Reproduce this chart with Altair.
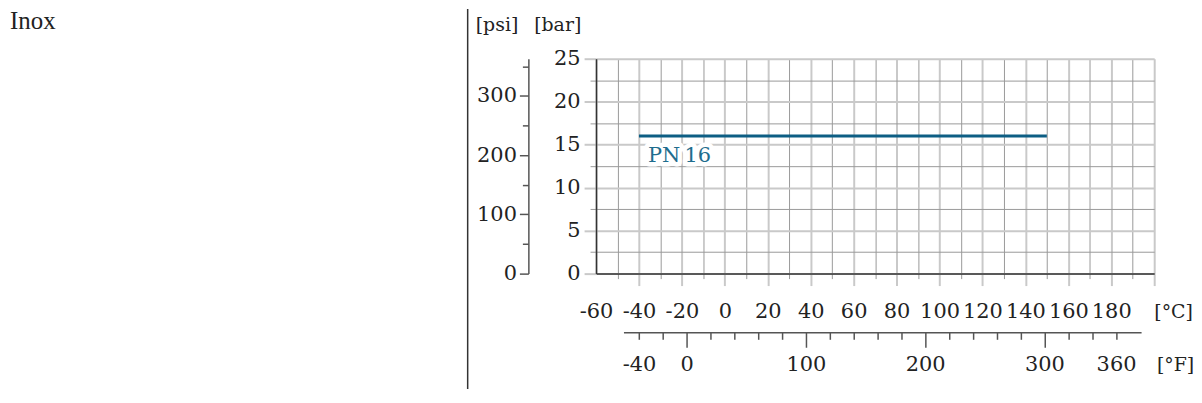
import altair as alt
import pandas as pd

# ---- data ----
chart_title = "Inox"
pn_temp_c = [-40, 150]
pn_bar = [16, 16]
pn_label = ["PN\u202f16"]

c_ticks = list(range(-60, 201, 10))
bar_ticks = [0, 2.5, 5, 7.5, 10, 12.5, 15, 17.5, 20, 22.5, 25]
psi_ticks = [0, 50, 100, 150, 200, 250, 300, 350]
f_ticks = list(range(-40, 361, 20))
f_labels = [-40, 0, 100, 200, 300, 360]

C_MIN, C_MAX = -60, 200
BAR_MAX = 25
F_MIN, F_MAX = -53, 381
PSI_PER_BAR = 14.5038

W, H = 561, 216

FONT = "DejaVu Serif"
TXT = "#222222"
LIGHT = "#c9c9c9"
DARK = "#999999"
AX = "#333333"
GUIDE = "#555555"
LINE = "#0d5e84"
LABEL = "#1f6d8e"
FS = 21
UFS = 19


def c2px(c):
    return (c - C_MIN) / (C_MAX - C_MIN) * W


def f2c(f):
    return (f - 32) / 1.8


line_df = pd.DataFrame({
    "c": pn_temp_c,
    "bar": pn_bar,
    "psi": [b * PSI_PER_BAR for b in pn_bar],
    "f": [c * 1.8 + 32 for c in pn_temp_c],
})
label_df = pd.DataFrame({"c": pn_temp_c[:1], "bar": pn_bar[:1], "t": pn_label})
title_df = pd.DataFrame({"t": [chart_title]})
one_df = pd.DataFrame({"a": [0]})

scale_c = alt.Scale(domain=[C_MIN, C_MAX], nice=False, zero=False)
scale_bar = alt.Scale(domain=[0, BAR_MAX], nice=False, zero=False)
scale_psi = alt.Scale(domain=[0, BAR_MAX * PSI_PER_BAR], nice=False, zero=False)
scale_f = alt.Scale(domain=[F_MIN, F_MAX], nice=False, zero=False,
                    range=[c2px(f2c(F_MIN)), c2px(f2c(F_MAX))])


def cond(test, a, b):
    return {"condition": {"test": test, "value": a}, "value": b}


MAJ_C = "datum.value % 20 === 0"
MAJ_B = "datum.value % 5 === 0"
F_LIST = "[" + ", ".join(str(v) for v in f_labels) + "]"

axis_c = alt.Axis(
    values=c_ticks, grid=True,
    gridColor=cond(MAJ_C, LIGHT, DARK), gridWidth=cond(MAJ_C, 2, 1),
    tickColor=cond(MAJ_C, LIGHT, DARK), tickWidth=cond(MAJ_C, 2, 1),
    tickSize=cond(MAJ_C, 12, 5), tickOpacity=cond("datum.value === -60", 0, 1),
    domainColor=AX, domainWidth=1.5,
    labelExpr="datum.value % 20 === 0 && datum.value < 200 ? toString(datum.value) : ''",
    labelFont=FONT, labelFontSize=FS, labelColor=TXT, labelBaseline="alphabetic",
    labelPadding=cond(MAJ_C, 32, 39), labelFlush=False, labelOverlap=False,
    title="[°C]", titleFont=FONT, titleFontSize=UFS, titleFontWeight="normal",
    titleColor=TXT, titleX=580, titleY=44, titleAlign="center",
    titleBaseline="alphabetic",
)

axis_bar = alt.Axis(
    values=bar_ticks, grid=True,
    gridColor=cond(MAJ_B, LIGHT, DARK), gridWidth=cond(MAJ_B, 2, 1),
    tickColor=cond(MAJ_B, LIGHT, DARK), tickWidth=cond(MAJ_B, 2, 1),
    tickSize=cond(MAJ_B, 12, 6),
    domainColor=AX, domainWidth=1.5,
    labelExpr="datum.value % 5 === 0 ? toString(datum.value) : ''",
    labelFont=FONT, labelFontSize=FS, labelColor=TXT,
    labelPadding=cond(MAJ_B, 4, 10), labelFlush=False, labelOverlap=False,
    title="[bar]", titleFont=FONT, titleFontSize=UFS, titleFontWeight="normal",
    titleColor=TXT, titleAngle=0, titleX=-39, titleY=-28, titleAlign="center",
    titleBaseline="alphabetic",
)

axis_psi = alt.Axis(
    orient="left", offset=68, values=psi_ticks, grid=False,
    tickColor=GUIDE, tickWidth=1.5,
    tickSize=cond("datum.value % 100 === 0", 9, 6),
    domainColor=GUIDE, domainWidth=1.5,
    labelExpr="datum.value % 100 === 0 ? toString(datum.value) : ''",
    labelFont=FONT, labelFontSize=FS, labelColor=TXT,
    labelPadding=cond("datum.value % 100 === 0", 3, 6),
    labelFlush=False, labelOverlap=False,
    title="[psi]", titleFont=FONT, titleFontSize=UFS, titleFontWeight="normal",
    titleColor=TXT, titleAngle=0, titleX=-32, titleY=-28, titleAlign="center",
    titleBaseline="alphabetic",
)

axis_f = alt.Axis(
    orient="bottom", offset=59, values=f_ticks, grid=False,
    tickColor=GUIDE, tickWidth=1.5,
    tickSize=cond("datum.value % 100 === 0", 15, 7),
    domainColor=GUIDE, domainWidth=1.5,
    labelExpr="indexof(" + F_LIST + ", datum.value) >= 0 ? toString(datum.value) : ''",
    labelFont=FONT, labelFontSize=FS, labelColor=TXT, labelBaseline="alphabetic",
    labelPadding=cond("datum.value % 100 === 0", 23, 31),
    labelFlush=False, labelOverlap=False,
    title="[°F]", titleFont=FONT, titleFontSize=UFS, titleFontWeight="normal",
    titleColor=TXT, titleX=582, titleY=38, titleAlign="center",
    titleBaseline="alphabetic",
)

main = alt.Chart(line_df).mark_line(color=LINE, strokeWidth=3).encode(
    x=alt.X("c:Q", scale=scale_c, axis=axis_c),
    y=alt.Y("bar:Q", scale=scale_bar, axis=axis_bar),
)

psi_layer = alt.Chart(line_df).mark_line(opacity=0).encode(
    x=alt.X("c:Q", scale=scale_c, axis=None),
    y=alt.Y("psi:Q", scale=scale_psi, axis=axis_psi),
)

f_layer = alt.Chart(line_df).mark_line(opacity=0).encode(
    x=alt.X("f:Q", scale=scale_f, axis=axis_f),
    y=alt.Y("bar:Q", scale=scale_bar, axis=None),
)

halo = alt.Chart(label_df).mark_text(
    align="left", baseline="alphabetic", dx=9, dy=26, font=FONT, fontSize=FS,
    color="white", stroke="white", strokeWidth=9, strokeJoin="round",
).encode(
    x=alt.X("c:Q", scale=scale_c, axis=None),
    y=alt.Y("bar:Q", scale=scale_bar, axis=None),
    text="t:N",
)

label = alt.Chart(label_df).mark_text(
    align="left", baseline="alphabetic", dx=9, dy=26, font=FONT, fontSize=FS,
    color=LABEL,
).encode(
    x=alt.X("c:Q", scale=scale_c, axis=None),
    y=alt.Y("bar:Q", scale=scale_bar, axis=None),
    text="t:N",
)

separator = alt.Chart(one_df).mark_rule(color=AX, strokeWidth=1.5).encode(
    x=alt.value(-129), y=alt.value(-50), y2=alt.value(332),
)

title_mark = alt.Chart(title_df).mark_text(
    align="left", baseline="alphabetic", font="Liberation Serif", fontSize=25,
    color=TXT,
).encode(
    x=alt.value(-589), y=alt.value(-30), text="t:N",
)

chart = alt.layer(
    main, psi_layer, f_layer, halo, label, separator, title_mark
).resolve_scale(
    x="independent", y="independent"
).properties(
    width=W, height=H,
    autosize=alt.AutoSizeParams(type="none"),
    padding={"left": 591, "top": 50, "right": 40, "bottom": 116},
).configure_view(strokeWidth=0)

chart.save("out.html", embed_options={"renderer": "svg", "actions": False})
